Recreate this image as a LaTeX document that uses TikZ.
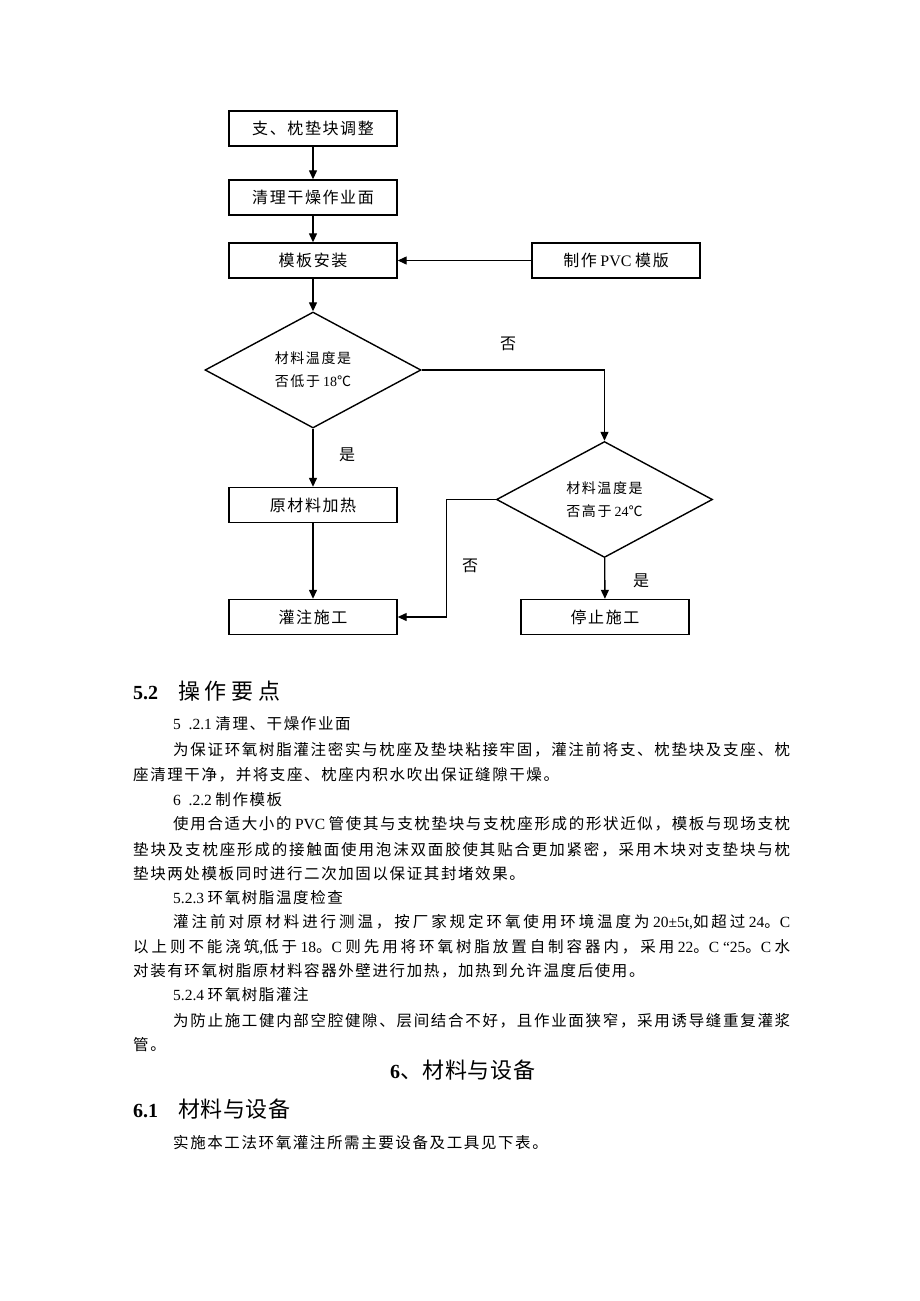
\documentclass[tikz,border=0pt]{standalone}
\usepackage{fontspec}
\setmainfont{Noto Sans CJK SC}
\newfontfamily\lat{Liberation Serif}
\usetikzlibrary{arrows.meta,shapes.geometric}
% glue between Chinese characters
\newXeTeXintercharclass\hanclass
\makeatletter
\count@="3000 \loop\XeTeXcharclass\count@=\hanclass \advance\count@ 1 \ifnum\count@<"3040 \repeat
\count@="4E00 \loop\XeTeXcharclass\count@=\hanclass \advance\count@ 1 \ifnum\count@<"A000 \repeat
\count@="FF00 \loop\XeTeXcharclass\count@=\hanclass \advance\count@ 1 \ifnum\count@<"FFF0 \repeat
\makeatother
\XeTeXinterchartoks\hanclass\hanclass={\hskip 1.6pt plus 1fil minus 1pt\relax}
\XeTeXinterchartokenstate=1
\newcommand\fullline[2]{\hbox to #1{#2}}
\begin{document}
\begin{tikzpicture}[x=1pt,y=-1pt,
  box/.style={draw,line width=1.4pt,minimum width=168pt,minimum height=35pt,inner sep=0pt,font=\fontsize{16}{18}\selectfont},
  decision/.style={draw,diamond,aspect=2,line width=1.4pt,minimum width=216pt,minimum height=116pt,inner sep=0pt,align=center,font=\fontsize{14}{23}\selectfont},
  flow/.style={line width=1.3pt,-{Triangle[length=9pt,width=8pt]}},
  tag/.style={inner sep=0pt,font=\fontsize{16}{18}\selectfont},
  txt/.style={anchor=west,inner sep=0pt,font=\fontsize{15.5}{18}\selectfont},
  head/.style={anchor=west,inner sep=0pt,font=\fontsize{22}{24}\selectfont}]
\useasboundingbox (0,0) rectangle (920,1301);

% flow chart
\node[box] (adjust) at (313,128.5) {支、枕垫块调整};
\node[box] (clean) at (313,197.5) {清理干燥作业面};
\node[box] (mould) at (313,260.5) {模板安装};
\node[box] (pvc) at (616,260.5) {制作 {\lat PVC} 模版};
\node[decision] (low) at (313,370) {材料温度是\\否低于 {\lat 18}℃};
\node[decision] (high) at (604.5,499.5) {材料温度是\\否高于 {\lat 24}℃};
\node[box] (heat) at (313,505) {原材料加热};
\node[box] (pour) at (313,617) {灌注施工};
\node[box] (stop) at (605,617) {停止施工};
\coordinate (bend) at (446.5,617);

\draw[flow] (adjust) -- (clean);
\draw[flow] (clean) -- (mould);
\draw[flow] (pvc) -- (mould);
\draw[flow] (mould) -- (low);
\draw[flow] (low) -- (heat);
\draw[flow] (heat) -- (pour);
\draw[flow] (low.east) -| (high.north);
\draw[flow] (high.west) -| (bend) -- (pour.east);
\draw[flow] (high) -- (stop);

\node[tag] (no1) at (508,344) {否};
\node[tag] (yes1) at (347,455) {是};
\node[tag] (no2) at (470,566) {否};
\node[tag] (yes2) at (641,581) {是};

% text below
\node[head] (h52) at (133,691) {{\lat\bfseries\fontsize{20}{24}\selectfont 5.2}\hspace{20pt}\fullline{102pt}{操作要点}};
\node[txt] (s521) at (173,724) {{\lat 5\ \ .2.1} 清理、干燥作业面};
\node[txt] (p1a) at (173,750) {\fullline{617pt}{为保证环氧树脂灌注密实与枕座及垫块粘接牢固，灌注前将支、枕垫块及支座、枕}};
\node[txt] (p1b) at (133,775) {座清理干净，并将支座、枕座内积水吹出保证缝隙干燥。};
\node[txt] (s522) at (173,800) {{\lat 6\ \ .2.2} 制作模板};
\node[txt] (p2a) at (173,824) {\fullline{617pt}{使用合适大小的 {\lat PVC} 管使其与支枕垫块与支枕座形成的形状近似，模板与现场支枕}};
\node[txt] (p2b) at (133,850) {\fullline{657pt}{垫块及支枕座形成的接触面使用泡沫双面胶使其贴合更加紧密，采用木块对支垫块与枕}};
\node[txt] (p2c) at (133,874) {垫块两处模板同时进行二次加固以保证其封堵效果。};
\node[txt] (s523) at (173,898) {{\lat 5.2.3} 环氧树脂温度检查};
\node[txt] (p3a) at (173,922) {\fullline{617pt}{灌注前对原材料进行测温，按厂家规定环氧使用环境温度为 {\lat 20±5t,}如超过 {\lat 24}。{\lat C}}};
\node[txt] (p3b) at (133,947) {\fullline{657pt}{以上则不能浇筑{\lat ,}低于 {\lat 18}。{\lat C} 则先用将环氧树脂放置自制容器内，采用 {\lat 22}。{\lat C “25}。{\lat C} 水}};
\node[txt] (p3c) at (133,971) {对装有环氧树脂原材料容器外壁进行加热，加热到允许温度后使用。};
\node[txt] (s524) at (173,995) {{\lat 5.2.4} 环氧树脂灌注};
\node[txt] (p4a) at (173,1021) {\fullline{617pt}{为防止施工健内部空腔健隙、层间结合不好，且作业面狭窄，采用诱导缝重复灌浆}};
\node[txt] (p4b) at (133,1045) {管。};
\node[head] (h6) at (390,1070) {{\lat\bfseries\fontsize{20}{24}\selectfont 6}\fullline{122pt}{、材料与设备}};
\node[head] (h61) at (133,1109) {{\lat\bfseries\fontsize{20}{24}\selectfont 6.1}\hspace{20pt}\fullline{107pt}{材料与设备}};
\node[txt] (p5) at (173,1143) {实施本工法环氧灌注所需主要设备及工具见下表。};
\end{tikzpicture}
\end{document}
